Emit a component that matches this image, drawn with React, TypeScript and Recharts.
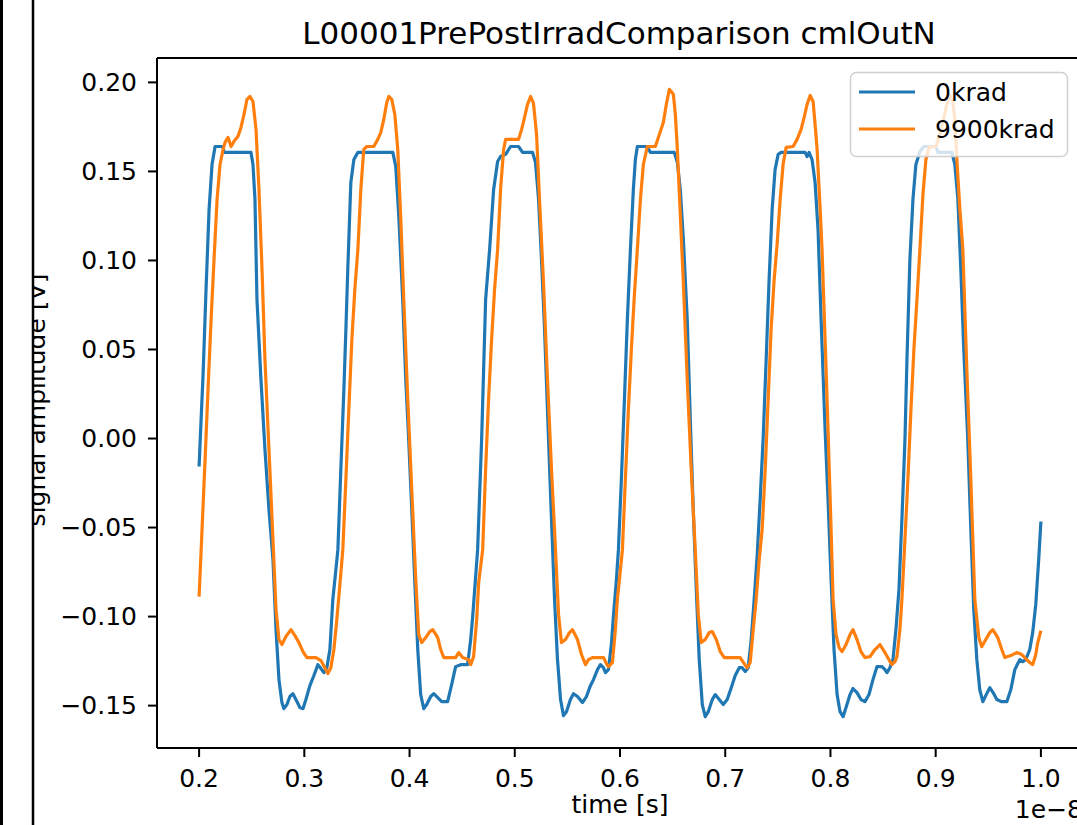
import React from 'react';
import { LineChart, Line, XAxis, YAxis, ReferenceLine } from 'recharts';

const title = 'L00001PrePostIrradComparison cmlOutN';
const xLabel = 'time [s]';
const yLabel = 'signal amplitude [V]';
const offsetText = '1e\u22128';
const seriesNames = ['0krad', '9900krad'];
const seriesColors = ['#1f77b4', '#ff7f0e'];

const xTicks = [0.2, 0.3, 0.4, 0.5, 0.6, 0.7, 0.8, 0.9, 1.0];
const yTicks = [-0.15, -0.1, -0.05, 0, 0.05, 0.1, 0.15, 0.2];
const xDomain = [0.16, 1.04];
const yDomain = [-0.1738, 0.2137];

const blueTime = [
  0.2, 0.2019, 0.2038, 0.2066, 0.2095, 0.2123, 0.2152, 0.2228, 0.2237, 0.2493, 0.2512, 0.2531, 0.255, 0.2588, 0.2626,
  0.2664, 0.2702, 0.2731, 0.2759, 0.2787, 0.2806, 0.2835, 0.2863, 0.2892, 0.292, 0.2958, 0.2987, 0.3015, 0.3053,
  0.3091, 0.3129, 0.3158, 0.3186, 0.3214, 0.3243, 0.3271, 0.33, 0.3319, 0.3347, 0.3376, 0.3395, 0.3414, 0.3442,
  0.3471, 0.3509, 0.3841, 0.3869, 0.3898, 0.3935, 0.3964, 0.3992, 0.4021, 0.4049, 0.4078, 0.4106, 0.4135, 0.4163,
  0.4201, 0.423, 0.4268, 0.4306, 0.4362, 0.44, 0.4438, 0.4486, 0.4552, 0.4581, 0.46, 0.4647, 0.4685, 0.4723, 0.4761,
  0.4799, 0.4837, 0.4865, 0.4913, 0.496, 0.5036, 0.5074, 0.5169, 0.5197, 0.5226, 0.5254, 0.5283, 0.5321, 0.5349,
  0.5378, 0.5406, 0.5435, 0.5463, 0.5491, 0.5529, 0.5558, 0.5596, 0.5643, 0.5681, 0.5719, 0.5748, 0.5786, 0.5814,
  0.5843, 0.5862, 0.589, 0.5918, 0.5937, 0.5966, 0.5985, 0.6013, 0.6042, 0.607, 0.6099, 0.6127, 0.6146, 0.6165,
  0.626, 0.6288, 0.6516, 0.6545, 0.6573, 0.6602, 0.6639, 0.6668, 0.6696, 0.6725, 0.6753, 0.6782, 0.681, 0.6839,
  0.6877, 0.6905, 0.6943, 0.6981, 0.7019, 0.7057, 0.7095, 0.7133, 0.7161, 0.719, 0.7218, 0.7247, 0.7275, 0.7304,
  0.7332, 0.736, 0.7389, 0.7417, 0.7446, 0.7474, 0.7503, 0.7531, 0.7759, 0.7778, 0.7797, 0.7825, 0.7854, 0.7882,
  0.7911, 0.7949, 0.7977, 0.8006, 0.8034, 0.8063, 0.8091, 0.812, 0.8148, 0.8186, 0.8214, 0.8252, 0.829, 0.8328,
  0.8366, 0.8404, 0.8442, 0.849, 0.8518, 0.8537, 0.8565, 0.8594, 0.8622, 0.8651, 0.8679, 0.8708, 0.8727, 0.8755,
  0.8784, 0.8812, 0.885, 0.8888, 0.9002, 0.9021, 0.9154, 0.9182, 0.9211, 0.9239, 0.9267, 0.9305, 0.9334, 0.9362,
  0.9391, 0.9419, 0.9448, 0.9476, 0.9514, 0.9552, 0.9581, 0.9628, 0.9676, 0.9714, 0.9752, 0.9799, 0.9828, 0.9856,
  0.9894, 0.9922, 0.9951, 0.9979, 1.0,
];
const blueValue = [
  -0.0157, 0.0107, 0.036, 0.0837, 0.1287, 0.1539, 0.164, 0.164, 0.1607, 0.1607, 0.1539, 0.1343, 0.0781, 0.0331, -0.0062,
  -0.0399, -0.068, -0.1073, -0.1354, -0.1483, -0.1517, -0.1494, -0.1449, -0.1433, -0.1466, -0.1511, -0.1517, -0.1466, -0.1388,
  -0.1331, -0.127, -0.1292, -0.1315, -0.1287, -0.1185, -0.0904, -0.0736, -0.0624, -0.0174, 0.0275, 0.0612, 0.0966, 0.1438,
  0.1567, 0.1607, 0.1607, 0.1528, 0.1247, 0.0781, 0.0331, -0.0006, -0.0399, -0.0792, -0.1185, -0.1438, -0.1517, -0.1494,
  -0.1449, -0.1433, -0.1455, -0.1478, -0.1478, -0.1382, -0.1281, -0.127, -0.127, -0.1129, -0.1, -0.0624, -0.0006, 0.0781, 0.1062,
  0.1399, 0.1556, 0.1584, 0.1596, 0.164, 0.164, 0.1607, 0.1607, 0.1551, 0.1343, 0.1006, 0.0612, -0.0006, -0.0455,
  -0.0904, -0.1242, -0.1466, -0.1556, -0.1534, -0.1466, -0.1433, -0.1449, -0.1483, -0.1449, -0.1388, -0.1354, -0.1298, -0.127,
  -0.1287, -0.1315, -0.1298, -0.1157, -0.1, -0.0792, -0.0624, -0.023, 0.0219, 0.0669, 0.1062, 0.1399, 0.1567, 0.164,
  0.164, 0.1607, 0.1607, 0.1551, 0.1399, 0.1118, 0.0669, 0.0107, -0.0399, -0.0848, -0.1242, -0.1494, -0.1562, -0.1534,
  -0.1466, -0.1438, -0.1466, -0.1494, -0.1466, -0.1399, -0.1331, -0.1287, -0.1287, -0.1309, -0.1287, -0.1129, -0.0904, -0.0652,
  -0.0343, -0.0006, 0.0444, 0.0893, 0.1287, 0.1511, 0.1596, 0.1607, 0.1607, 0.1584, 0.1607, 0.1567, 0.1438, 0.1174,
  0.0669, 0.0051, -0.0343, -0.0792, -0.1185, -0.1438, -0.1534, -0.1562, -0.1511, -0.1438, -0.1404, -0.1427, -0.1466, -0.1478,
  -0.1438, -0.1354, -0.1281, -0.1281, -0.1298, -0.1315, -0.1287, -0.1242, -0.1073, -0.0848, -0.0455, -0.0006, 0.0444, 0.1006,
  0.1343, 0.1539, 0.1612, 0.164, 0.164, 0.1607, 0.1607, 0.1539, 0.1343, 0.0949, 0.05, -0.0006, -0.0511, -0.0961,
  -0.1242, -0.141, -0.1478, -0.1444, -0.1399, -0.1433, -0.1466, -0.1478, -0.1478, -0.141, -0.1298, -0.1242, -0.1253, -0.1242,
  -0.1185, -0.109, -0.0933, -0.068, -0.0466,
];

const orangeTime = [
  0.2, 0.2028, 0.2057, 0.2085, 0.2114, 0.2142, 0.2171, 0.2199, 0.2228, 0.2247, 0.2275, 0.2304, 0.2332, 0.237, 0.2398,
  0.2427, 0.2455, 0.2484, 0.2512, 0.2541, 0.2569, 0.2598, 0.2626, 0.2664, 0.2702, 0.2731, 0.2759, 0.2787, 0.2825,
  0.2873, 0.2911, 0.2949, 0.2987, 0.3025, 0.311, 0.3158, 0.3195, 0.3224, 0.3252, 0.3281, 0.3309, 0.3338, 0.3366,
  0.3395, 0.3423, 0.3452, 0.348, 0.3509, 0.3537, 0.3565, 0.3594, 0.366, 0.3698, 0.3727, 0.3755, 0.3784, 0.3803,
  0.3831, 0.386, 0.3888, 0.3917, 0.3945, 0.3983, 0.4021, 0.4059, 0.4087, 0.4116, 0.4154, 0.4192, 0.422, 0.4268,
  0.4296, 0.4325, 0.4438, 0.4467, 0.4505, 0.4562, 0.4581, 0.4609, 0.4638, 0.4657, 0.4695, 0.4723, 0.4751, 0.478,
  0.4808, 0.4837, 0.4865, 0.4894, 0.4913, 0.5036, 0.5065, 0.5093, 0.5121, 0.515, 0.5178, 0.5207, 0.5235, 0.5273,
  0.5311, 0.5349, 0.5387, 0.5416, 0.5444, 0.5482, 0.552, 0.5548, 0.5596, 0.5634, 0.5672, 0.57, 0.5738, 0.5843,
  0.5871, 0.589, 0.5928, 0.5956, 0.5975, 0.6004, 0.6023, 0.6051, 0.608, 0.6108, 0.6137, 0.6165, 0.6194, 0.6222,
  0.626, 0.6336, 0.6374, 0.6412, 0.644, 0.6469, 0.6507, 0.6526, 0.6545, 0.6573, 0.6602, 0.6639, 0.6677, 0.6715,
  0.6744, 0.6772, 0.681, 0.6848, 0.6877, 0.6915, 0.6953, 0.6991, 0.7142, 0.718, 0.7209, 0.7237, 0.7266, 0.7294,
  0.7323, 0.7351, 0.738, 0.7408, 0.7436, 0.7465, 0.7493, 0.7522, 0.755, 0.7579, 0.7645, 0.7683, 0.7721, 0.775,
  0.7778, 0.7807, 0.7835, 0.7854, 0.7873, 0.7902, 0.792, 0.7949, 0.7977, 0.8006, 0.8025, 0.8053, 0.8082, 0.811,
  0.8148, 0.8186, 0.8214, 0.8252, 0.829, 0.8328, 0.8376, 0.8423, 0.8471, 0.8518, 0.8556, 0.8584, 0.8613, 0.8632,
  0.866, 0.8679, 0.8708, 0.8736, 0.8765, 0.8793, 0.8822, 0.885, 0.8879, 0.8907, 0.8936, 0.9002, 0.904, 0.9078,
  0.9107, 0.9135, 0.9163, 0.9182, 0.9201, 0.923, 0.9258, 0.9296, 0.9334, 0.9372, 0.941, 0.9438, 0.9476, 0.9514,
  0.9543, 0.959, 0.9628, 0.9657, 0.9714, 0.977, 0.9818, 0.9865, 0.9894, 0.9922, 0.9951, 0.997, 1.0,
];
const orangeValue = [
  -0.0888, -0.0511, -0.0118, 0.0275, 0.0669, 0.1006, 0.1343, 0.1539, 0.1624, 0.1663, 0.1691, 0.164, 0.1669, 0.1697, 0.1747,
  0.182, 0.1904, 0.1921, 0.1893, 0.1736, 0.1399, 0.0949, 0.0444, -0.0062, -0.0567, -0.0961, -0.1129, -0.1157, -0.1112,
  -0.1073, -0.1107, -0.1146, -0.1197, -0.123, -0.123, -0.1247, -0.1287, -0.132, -0.1287, -0.1185, -0.1017, -0.082, -0.0624,
  -0.023, 0.0163, 0.0556, 0.0837, 0.1062, 0.1399, 0.1624, 0.164, 0.164, 0.168, 0.1719, 0.1792, 0.1888, 0.1921,
  0.1904, 0.182, 0.1624, 0.123, 0.0781, 0.0219, -0.0287, -0.0792, -0.1101, -0.1146, -0.1118, -0.1084, -0.1073, -0.1118,
  -0.1185, -0.123, -0.123, -0.1202, -0.123, -0.1242, -0.127, -0.1225, -0.1017, -0.0809, -0.0624, -0.0174, 0.0219, 0.0556,
  0.0837, 0.1062, 0.1399, 0.1624, 0.168, 0.168, 0.1736, 0.1803, 0.1876, 0.1921, 0.1882, 0.1708, 0.1343, 0.0876,
  0.0331, -0.0174, -0.0624, -0.0989, -0.1146, -0.1129, -0.109, -0.1073, -0.1129, -0.1213, -0.127, -0.1242, -0.123, -0.123,
  -0.1264, -0.1281, -0.1258, -0.1073, -0.0904, -0.0736, -0.0624, -0.023, 0.0163, 0.05, 0.0809, 0.1062, 0.1343, 0.1539,
  0.164, 0.164, 0.1708, 0.1775, 0.1876, 0.1961, 0.1933, 0.182, 0.1624, 0.1258, 0.0876, 0.0331, -0.0174, -0.0624,
  -0.0989, -0.1146, -0.1129, -0.109, -0.1084, -0.1129, -0.1197, -0.123, -0.123, -0.1264, -0.1287, -0.1258, -0.1073, -0.0904,
  -0.068, -0.0511, -0.0174, 0.0219, 0.0612, 0.0893, 0.109, 0.1343, 0.1539, 0.1635, 0.164, 0.168, 0.1736, 0.1803,
  0.1876, 0.1927, 0.1893, 0.1764, 0.1624, 0.1287, 0.1062, 0.0556, 0.0051, -0.0511, -0.0904, -0.1101, -0.1174, -0.1197,
  -0.1157, -0.1101, -0.1073, -0.1129, -0.1197, -0.123, -0.1225, -0.1185, -0.1157, -0.1202, -0.1242, -0.127, -0.1253, -0.1225,
  -0.1073, -0.0904, -0.0567, -0.023, 0.0163, 0.05, 0.0781, 0.1062, 0.1371, 0.1567, 0.1635, 0.164, 0.1708, 0.1803,
  0.1882, 0.1927, 0.1893, 0.1792, 0.1567, 0.1287, 0.1062, 0.0388, -0.023, -0.0904, -0.1118, -0.1169, -0.1129, -0.109,
  -0.1073, -0.1118, -0.1185, -0.123, -0.1219, -0.1202, -0.1213, -0.1242, -0.1258, -0.127, -0.1213, -0.1146, -0.1079,
];

const blueData = blueTime.map((t, i) => ({ t, v: blueValue[i] }));
const orangeData = orangeTime.map((t, i) => ({ t, v: orangeValue[i] }));

const FONT = "'DejaVu Sans', sans-serif";
const fmtY = (v: number) => v.toFixed(2).replace('-', '\u2212');
const fmtX = (v: number) => v.toFixed(1);

export default function App() {
  return (
    <div style={{ position: 'absolute', left: 0, top: 0, width: 1077, height: 825, overflow: 'hidden', background: '#fff' }}>
      <LineChart
        width={1100}
        height={825}
        margin={{ top: 58, right: 17, bottom: 0, left: 0 }}
        style={{ position: 'absolute', left: 0, top: 0 }}
      >
        <XAxis
          dataKey="t"
          type="number"
          domain={xDomain}
          allowDataOverflow
          ticks={xTicks}
          tickFormatter={fmtX}
          height={77}
          tickSize={9}
          tickMargin={12}
          axisLine={{ stroke: '#000', strokeWidth: 2 }}
          tickLine={{ stroke: '#000', strokeWidth: 2 }}
          tick={{ fontSize: 25, fill: '#000', fontFamily: FONT }}
          interval={0}
        />
        <YAxis
          dataKey="v"
          type="number"
          domain={yDomain}
          allowDataOverflow
          ticks={yTicks}
          tickFormatter={fmtY}
          width={157}
          tickSize={9}
          tickMargin={11}
          axisLine={{ stroke: '#000', strokeWidth: 2 }}
          tickLine={{ stroke: '#000', strokeWidth: 2 }}
          tick={{ fontSize: 25, fill: '#000', fontFamily: FONT }}
          interval={0}
        />
        <ReferenceLine y={yDomain[1]} stroke="#000" strokeWidth={2} />
        <ReferenceLine x={xDomain[1]} stroke="#000" strokeWidth={2} />
        <Line
          data={blueData}
          dataKey="v"
          name={seriesNames[0]}
          type="linear"
          stroke={seriesColors[0]}
          strokeWidth={3.2}
          dot={false}
          isAnimationActive={false}
          strokeLinejoin="round"
        />
        <Line
          data={orangeData}
          dataKey="v"
          name={seriesNames[1]}
          type="linear"
          stroke={seriesColors[1]}
          strokeWidth={3.2}
          dot={false}
          isAnimationActive={false}
          strokeLinejoin="round"
        />
      </LineChart>
      <svg
        width={1077}
        height={825}
        style={{ position: 'absolute', left: 0, top: 0, pointerEvents: 'none' }}
        fontFamily={FONT}
      >
        <text x={619} y={44} textAnchor="middle" fontSize={31} fill="#000">{title}</text>
        <text x={620} y={813} textAnchor="middle" fontSize={25} fill="#000">{xLabel}</text>
        <text x={1083} y={818} textAnchor="end" fontSize={25} fill="#000">{offsetText}</text>
        <text transform="translate(45,400) rotate(-90)" textAnchor="middle" fontSize={25} fill="#000">{yLabel}</text>
        <rect x={3} y={0} width={30} height={825} fill="#fff" />
        <line x1={33} y1={0} x2={33} y2={825} stroke="#000" strokeWidth={2.5} />
        <line x1={1.5} y1={0} x2={1.5} y2={825} stroke="#000" strokeWidth={3} />
        <g>
          <rect x={850.5} y={72.5} width={217} height={84} rx={6} ry={6} fill="rgba(255,255,255,0.8)" stroke="#d0d0d0" strokeWidth={1.5} />
          <line x1={859} y1={92} x2={915} y2={92} stroke={seriesColors[0]} strokeWidth={3.2} />
          <text x={935} y={101} fontSize={25} fill="#000">{seriesNames[0]}</text>
          <line x1={859} y1={129} x2={915} y2={129} stroke={seriesColors[1]} strokeWidth={3.2} />
          <text x={935} y={138} fontSize={25} fill="#000">{seriesNames[1]}</text>
        </g>
      </svg>
    </div>
  );
}
